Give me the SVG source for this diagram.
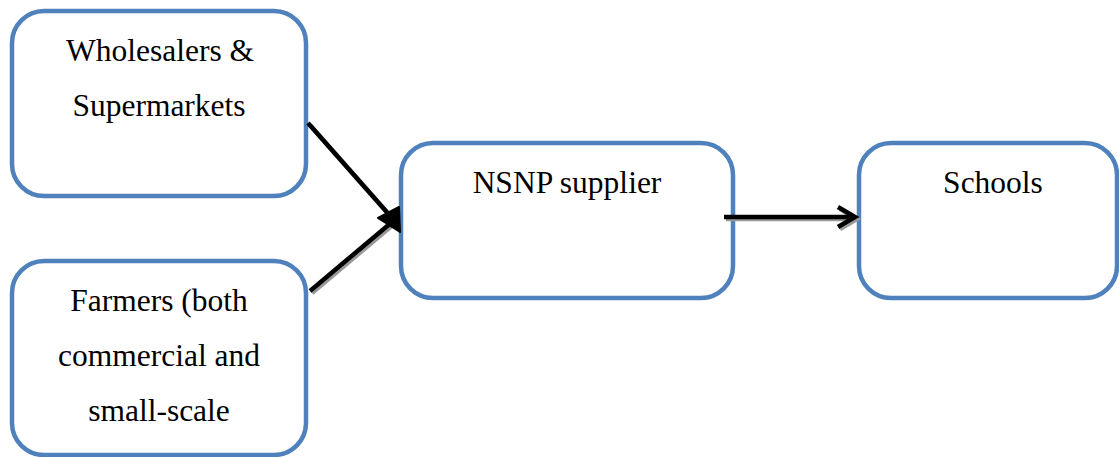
<svg xmlns="http://www.w3.org/2000/svg" width="1119" height="457" viewBox="0 0 1119 457">
<style>
.box{fill:#fff;stroke:#4f81bd;stroke-width:4.5}
.t{font-family:"Liberation Serif",serif;font-size:31.5px;fill:#000;text-anchor:middle}
.ln{stroke:#000;stroke-width:4.5;fill:none}
.sh{stroke:#999;stroke-width:4.5;fill:none}
</style>
<rect width="1119" height="457" fill="#fff"/>
<g id="wholesalers">
<rect class="box" x="12" y="11" width="294" height="185" rx="32"/>
<text class="t" x="160" y="61">Wholesalers &amp;</text>
<text class="t" x="159" y="116">Supermarkets</text>
</g>
<g id="farmers">
<rect class="box" x="12" y="261" width="294" height="194" rx="32"/>
<text class="t" x="159" y="311">Farmers (both</text>
<text class="t" x="159" y="366">commercial and</text>
<text class="t" x="159" y="421">small-scale</text>
</g>
<g id="nsnp">
<rect class="box" x="401" y="143" width="332" height="155" rx="32"/>
<text class="t" x="567" y="193">NSNP supplier</text>
</g>
<g id="schools">
<rect class="box" x="859" y="143" width="258" height="155" rx="32"/>
<text class="t" x="993" y="193">Schools</text>
</g>
<g id="connectors">
<g transform="translate(2,2)">
<path class="sh" d="M308,123 L392,218"/>
<path class="sh" d="M310,291 L392,222"/>
<path class="sh" d="M724,217 L854,217"/>
<path class="sh" d="M838,207 L855,217 L838,227"/>
</g>
<path class="ln" d="M308,123 L392,218"/>
<path class="ln" d="M310,291 L392,222"/>
<polygon points="399,207 378,218 400,232" fill="#000" stroke="#000" stroke-width="2" stroke-linejoin="round"/>
<path class="ln" d="M724,217 L854,217"/>
<path class="ln" d="M838,207 L855,217 L838,227" stroke-linejoin="miter"/>
</g>
</svg>
